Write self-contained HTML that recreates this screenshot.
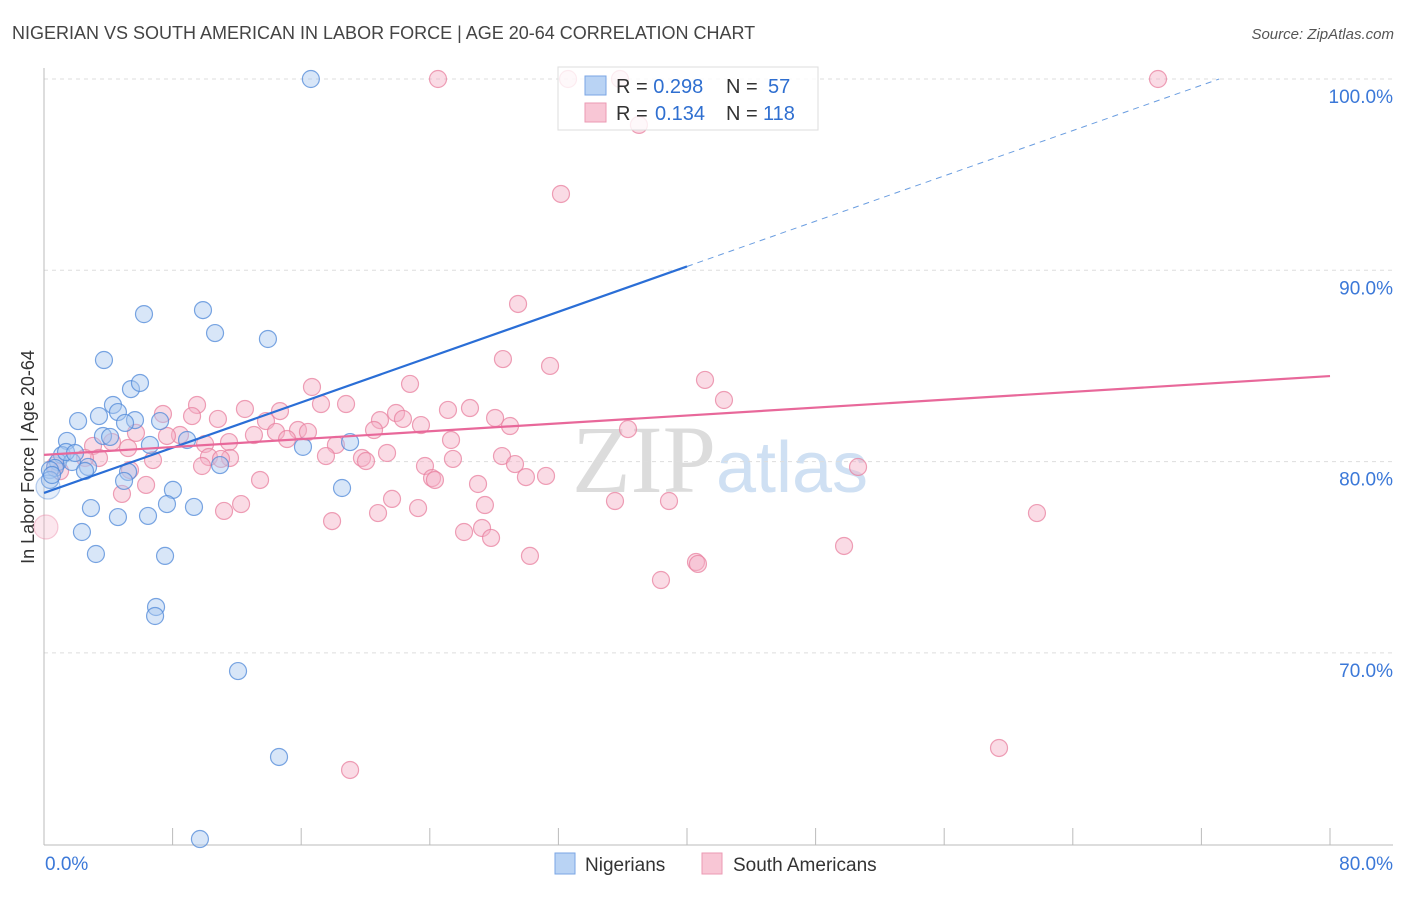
<!DOCTYPE html>
<html><head><meta charset="utf-8">
<style>
body{margin:0;background:#fff;font-family:"Liberation Sans",sans-serif;}
svg text{font-family:"Liberation Sans",sans-serif;}
</style></head>
<body>
<svg id="chart" width="1406" height="892">
<text x="12" y="39" font-size="18" fill="#444">NIGERIAN VS SOUTH AMERICAN IN LABOR FORCE | AGE 20-64 CORRELATION CHART</text>
<text x="1394" y="39" font-size="15" fill="#555" font-style="italic" text-anchor="end">Source: ZipAtlas.com</text>
<text x="720" y="492" font-size="96" fill="#e4e4e4" text-anchor="middle" font-family="Liberation Serif"><tspan font-family="Liberation Serif" fill="#dcdcdc">ZIP</tspan><tspan fill="#cfe0f3" font-size="72">atlas</tspan></text>
<text transform="translate(34,457) rotate(-90)" font-size="18" fill="#333" text-anchor="middle">In Labor Force | Age 20-64</text>
<g id="grid"></g>
<g id="axes"></g>
<g id="marks"></g>
<g id="trends"></g>
<g>
<rect x="558" y="67" width="260" height="63" fill="#fff" fill-opacity="0.8" stroke="#ddd"/>
<rect x="585" y="76" width="21" height="19" fill="#b9d3f4" stroke="#7aa6e4"/>
<rect x="585" y="103" width="21" height="19" fill="#f8c6d5" stroke="#eb9ab3"/>
<text x="616" y="93" font-size="20" fill="#333">R = <tspan fill="#2f6fd0">0.298</tspan></text>
<text x="726" y="93" font-size="20" fill="#333">N = </text><text x="768" y="93" font-size="20" fill="#2f6fd0">57</text>
<text x="616" y="120" font-size="20" fill="#333">R = </text><text x="655" y="120" font-size="20" fill="#2f6fd0">0.134</text>
<text x="726" y="120" font-size="20" fill="#333">N = </text><text x="763" y="120" font-size="20" fill="#2f6fd0">118</text>
</g>
<g>
<rect x="555" y="853" width="20" height="21" fill="#b9d3f4" stroke="#7aa6e4"/>
<text x="585" y="871" font-size="19" fill="#333">Nigerians</text>
<rect x="702" y="853" width="20" height="21" fill="#f8c6d5" stroke="#eb9ab3"/>
<text x="733" y="871" font-size="19" fill="#333">South Americans</text>
</g>
</svg>
<script>
const yTicks=[100,90,80,70];
const yTickLabels=["100.0%","90.0%","80.0%","70.0%"];
const xTickLabels=["0.0%","80.0%"];
const blueX=[16.6,3.73,6.22,9.89,10.64,13.93,5.41,5.97,4.29,3.42,4.60,2.12,5.66,5.04,7.22,1.43,3.67,4.11,6.59,8.90,16.11,19.04,1.12,0.87,1.74,0.68,2.74,0.37,2.55,5.23,10.95,4.98,0.37,8.02,18.54,2.92,7.65,9.33,4.60,6.47,2.36,3.23,7.53,6.97,6.91,12.07,14.62,9.70,0.25,0.50,1.37,1.93];
const blueY=[100,85.31,87.71,87.92,86.72,86.41,83.79,84.11,82.96,82.38,82.59,82.12,82.17,82.02,82.12,81.08,81.34,81.29,80.87,81.13,80.77,81.02,80.34,79.98,79.98,79.67,79.72,79.56,79.51,79.46,79.82,78.99,79.04,78.52,78.62,77.57,77.78,77.63,77.10,77.16,76.32,75.17,75.07,72.40,71.93,69.05,64.56,60.27,78.67,79.30,80.50,80.45];
const pinkX=[24.51,32.60,35.83,69.30,37.01,32.16,29.49,28.55,31.48,41.12,22.77,16.67,42.30,9.52,17.23,18.79,12.50,25.13,26.50,14.68,7.40,10.82,9.21,13.81,21.90,20.90,22.33,23.45,28.06,28.99,14.43,15.80,16.42,13.06,8.46,7.65,5.72,20.53,36.33,25.32,4.23,3.05,5.23,10.02,11.51,15.12,10.26,11.57,18.16,17.54,21.34,19.78,25.44,28.49,29.30,6.78,3.42,11.01,9.83,20.03,23.70,24.14,24.32,27.00,29.98,31.23,50.64,13.44,6.35,4.85,21.65,23.27,20.78,12.26,11.20,17.92,35.52,38.88,27.43,26.13,27.25,27.81,30.23,49.77,40.56,40.68,38.38,61.77,59.41,19.04,0.12,2.55,5.35,0.7,1.0];
const pinkY=[100,100,100,100,97.60,93.99,88.24,85.36,85.00,84.27,84.06,83.90,83.22,82.96,83.01,83.01,82.75,82.70,82.80,82.64,82.49,82.23,82.38,82.12,82.54,82.17,82.23,81.91,82.28,81.86,81.55,81.65,81.55,81.39,81.39,81.34,81.50,81.65,81.70,81.13,81.02,80.82,80.71,80.92,81.02,81.18,80.24,80.19,80.87,80.29,80.45,80.19,80.14,80.29,79.87,80.08,80.19,80.14,79.77,80.03,79.77,79.14,79.04,78.83,79.19,79.25,79.72,79.04,78.78,78.31,78.05,77.57,77.31,77.78,77.42,76.89,77.94,77.94,77.73,76.32,76.53,76.01,75.07,75.59,74.75,74.65,73.81,77.31,65.03,63.88,76.58,80.19,79.56,79.8,79.5];
const blueTrend=[78.36,0.296];
const pinkTrend=[80.35,0.0515];
const NS="http://www.w3.org/2000/svg";
const X0=44,X1=1330,YT=79,PY=19.13;
function sx(v){return X0+(X1-X0)*v/80;}
function sy(v){return YT+(100-v)*PY;}
function mk(tag,attrs,parent){const e=document.createElementNS(NS,tag);for(const k in attrs)e.setAttribute(k,attrs[k]);parent.appendChild(e);return e;}
const grid=document.getElementById('grid'),axes=document.getElementById('axes'),marks=document.getElementById('marks'),trends=document.getElementById('trends');
yTicks.forEach((t,i)=>{
 const l=mk('line',{x1:X0,x2:1393,y1:sy(t),y2:sy(t),stroke:'#ddd','stroke-dasharray':'4,4'},grid);
 
 
 const tx=mk('text',{x:1393,y:sy(t)+24,'font-size':19,fill:'#3b78d8','text-anchor':'end'},axes);
 tx.textContent=yTickLabels[i];
 
 
});
let a=mk('line',{x1:X0,x2:X0,y1:68,y2:845,stroke:'#bbb'},axes);


a=mk('line',{x1:X0,x2:1393,y1:845,y2:845,stroke:'#bbb'},axes);


for(let i=1;i<=10;i++){
 const t=mk('line',{x1:sx(i*8),x2:sx(i*8),y1:828,y2:845,stroke:'#bbb'},axes);
 
 
}
let xl=mk('text',{x:45,y:870,'font-size':19,fill:'#3b78d8'},axes);xl.textContent=xTickLabels[0];


xl=mk('text',{x:1393,y:870,'font-size':19,fill:'#3b78d8','text-anchor':'end'},axes);xl.textContent=xTickLabels[1];


function dots(xs,ys,fill,stroke,name){
 xs.forEach((x,i)=>{
  const big=(x<0.3&&(ys[i]<79||ys[i]>76&&ys[i]<77));
  const c=mk('circle',{cx:sx(x),cy:sy(ys[i]),r:big?12:8.5,fill:fill,'fill-opacity':big?0.3:0.45,stroke:stroke,'stroke-opacity':big?0.4:0.75,'stroke-width':1.2},marks);
  
  
 });
}
dots(pinkX,pinkY,'#f4b0c6','#e8809f','south-american-point');
dots(blueX,blueY,'#a9c7f0','#4f88d8','nigerian-point');
let tl=mk('line',{x1:sx(0),y1:sy(blueTrend[0]),x2:sx(40),y2:sy(blueTrend[0]+40*blueTrend[1]),stroke:'#2a6ed6','stroke-width':2.2},trends);


const xe=(100-blueTrend[0])/blueTrend[1];
tl=mk('line',{x1:sx(40),y1:sy(blueTrend[0]+40*blueTrend[1]),x2:sx(xe),y2:sy(100),stroke:'#6a9de0','stroke-width':1,'stroke-dasharray':'6,5'},trends);


tl=mk('line',{x1:sx(0),y1:sy(pinkTrend[0]),x2:sx(80),y2:sy(pinkTrend[0]+80*pinkTrend[1]),stroke:'#e8689a','stroke-width':2.2},trends);


</script>
</body></html>
